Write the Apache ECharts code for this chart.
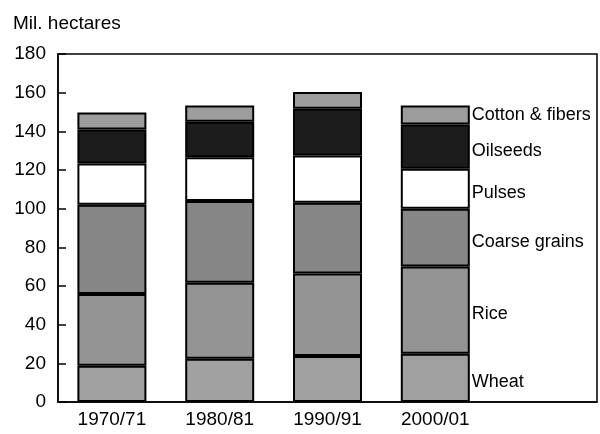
<!DOCTYPE html>
<html><head><meta charset="utf-8">
<script src="https://cdn.jsdelivr.net/npm/echarts@6/dist/echarts.min.js"></script>
<style>html,body{margin:0;padding:0;background:#fff}#c{width:600px;height:434px}</style>
</head><body><div id="c"></div>
<script>
const categories = ['1970/71', '1980/81', '1990/91', '2000/01', ''];
const seriesNames = ['Wheat', 'Rice', 'Coarse grains', 'Pulses', 'Oilseeds', 'Cotton & fibers'];
const wheat = [18.7, 22.4, 23.8, 25.0];
const rice = [37.1, 39.3, 42.7, 45.1];
const coarseGrains = [46.2, 42.3, 36.5, 29.9];
const pulses = [21.3, 22.6, 24.5, 20.6];
const oilseeds = [17.7, 18.4, 24.2, 22.9];
const cottonFibers = [8.7, 8.4, 8.6, 9.9];
const yTicks = [0, 20, 40, 60, 80, 100, 120, 140, 160, 180];

const values = [wheat, rice, coarseGrains, pulses, oilseeds, cottonFibers];
const colors = ['#a0a0a0', '#949494', '#868686', '#ffffff', '#1c1c1c', '#9d9d9d'];
const font = 'Liberation Sans, Arial, sans-serif';

const series = seriesNames.map((name, s) => ({
  name, type: 'bar', stack: 'total', barWidth: 69,
  itemStyle: { color: colors[s], borderColor: '#000', borderWidth: 2 },
  data: values[s].map((v, i) => i === values[s].length - 1 ? {
    value: v,
    label: { show: true, position: 'right', distance: 2, offset: [0, s === 5 ? 0 : 4],
      formatter: name, color: '#000', fontSize: 18, fontFamily: font }
  } : v)
}));

const chart = echarts.init(document.getElementById('c'), null, { renderer: 'canvas' });
chart.setOption({
  animation: false,
  title: { text: 'Mil. hectares', left: 8, top: 9,
    textStyle: { fontSize: 19, fontWeight: 'normal', color: '#000', fontFamily: font } },
  grid: { left: 58, right: 3, top: 54, bottom: 32, show: true, borderColor: '#000', borderWidth: 1.5, backgroundColor: 'transparent' },
  xAxis: {
    type: 'category', data: categories,
    axisLine: { lineStyle: { color: '#000', width: 1.5 } },
    axisTick: { alignWithLabel: true, length: 7, lineStyle: { color: '#000', width: 2 },
      interval: (i) => categories[i] !== '' },
    axisLabel: { color: '#000', fontSize: 19, fontFamily: font, margin: 8 }
  },
  yAxis: {
    type: 'value', min: yTicks[0], max: yTicks[yTicks.length - 1], interval: yTicks[1] - yTicks[0],
    splitLine: { show: false },
    axisLine: { show: true, lineStyle: { color: '#000', width: 1.5 } },
    axisTick: { show: true, inside: true, length: 8, lineStyle: { color: '#000', width: 1.5 } },
    axisLabel: { color: '#000', fontSize: 19, fontFamily: font, margin: 12 }
  },
  series
});
</script></body></html>
